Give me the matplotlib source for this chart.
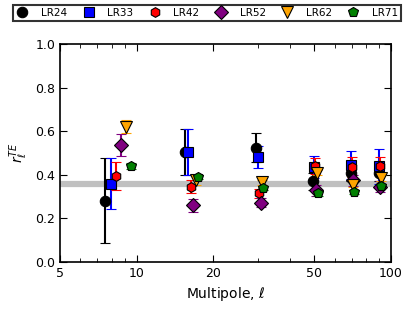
import numpy as np
import matplotlib
matplotlib.use("Agg")
import matplotlib.pyplot as plt
from matplotlib.ticker import FixedLocator, NullFormatter, FixedFormatter

#%% data

series = ["LR24", "LR33", "LR42", "LR52", "LR62", "LR71"]

ell_lr24 = [7.5, 15.5, 29.5, 49.5, 69.5, 89.5]
ell_lr33 = [7.9, 15.9, 29.9, 49.9, 69.9, 89.9]
ell_lr42 = [8.3, 16.3, 30.3, 50.3, 70.3, 90.3]
ell_lr52 = [8.7, 16.7, 30.7, 50.7, 70.7, 90.7]
ell_lr62 = [9.1, 17.1, 31.1, 51.1, 71.1, 91.1]
ell_lr71 = [9.5, 17.5, 31.5, 51.5, 71.5, 91.5]

r_lr24 = [0.28, 0.505, 0.525, 0.37, 0.41, 0.41]
r_lr33 = [0.36, 0.505, 0.48, 0.435, 0.445, 0.44]
r_lr42 = [0.395, 0.345, 0.315, 0.44, 0.435, 0.44]
r_lr52 = [0.537, 0.26, 0.272, 0.33, 0.375, 0.345]
r_lr62 = [0.62, 0.375, 0.365, 0.41, 0.355, 0.385]
r_lr71 = [0.44, 0.39, 0.34, 0.315, 0.32, 0.35]

err_lr24 = [0.195, 0.105, 0.065, 0.04, 0.04, 0.04]
err_lr33 = [0.115, 0.105, 0.05, 0.05, 0.065, 0.08]
err_lr42 = [0.065, 0.03, 0.02, 0.035, 0.045, 0.04]
err_lr52 = [0.05, 0.03, 0.02, 0.025, 0.025, 0.025]
err_lr62 = [0.03, 0.02, 0.012, 0.012, 0.012, 0.012]
err_lr71 = [0.015, 0.01, 0.01, 0.01, 0.01, 0.01]

r_full_sky = 0.36

x_ticks = [5, 10, 20, 50, 100]

#%%
ells = [ell_lr24, ell_lr33, ell_lr42, ell_lr52, ell_lr62, ell_lr71]
rs = [r_lr24, r_lr33, r_lr42, r_lr52, r_lr62, r_lr71]
errs = [err_lr24, err_lr33, err_lr42, err_lr52, err_lr62, err_lr71]
colors = ["black", "blue", "red", "purple", "orange", "green"]
markers = ["o", "s", "h", "D", "v", "p"]
msizes = [7.5, 7, 7, 7.5, 8, 7]

fig = plt.figure(figsize=(4.15, 3.13), dpi=100)
ax = fig.add_axes([60/415, 51/313, 331/415, 218/313])

ax.axhline(r_full_sky, color="#c0c0c0", lw=4.5, zorder=1)

handles = []
for ell, r, e, c, m, ms in zip(ells, rs, errs, colors, markers, msizes):
    h = ax.errorbar(ell, r, yerr=e, fmt=m, color=c, mfc=c, mec="black",
                    mew=0.8, ms=ms, ecolor=c, elinewidth=1.5, capsize=3.5,
                    capthick=1.2, zorder=3)
    handles.append(h[0])

ax.set_xscale("log")
ax.set_xlim(5, 100)
ax.set_ylim(0, 1)
ax.xaxis.set_major_locator(FixedLocator(x_ticks))
ax.xaxis.set_major_formatter(FixedFormatter([str(t) for t in x_ticks]))
ax.xaxis.set_minor_formatter(NullFormatter())
ax.set_yticks(np.arange(0, 1.01, 0.2))
ax.tick_params(which="both", direction="in", top=True, right=True, labelsize=9)
ax.tick_params(which="major", length=5)
ax.tick_params(which="minor", length=3)
for s in ax.spines.values():
    s.set_linewidth(1.2)

ax.set_xlabel(r"Multipole, $\ell$", fontsize=10)
ax.set_ylabel(r"$r_\ell^{TE}$", fontsize=10)

leg = fig.legend(handles, series, loc="lower left",
                 bbox_to_anchor=(13/415, 1 - 21/313, 388/415, 17/313),
                 mode="expand", ncol=6, borderaxespad=0, fontsize=7.5,
                 fancybox=False, handletextpad=1.2, borderpad=0.3,
                 handlelength=1.2)
leg.get_frame().set_edgecolor("black")
leg.get_frame().set_linewidth(1.5)

fig.savefig("out.png", dpi=100)
